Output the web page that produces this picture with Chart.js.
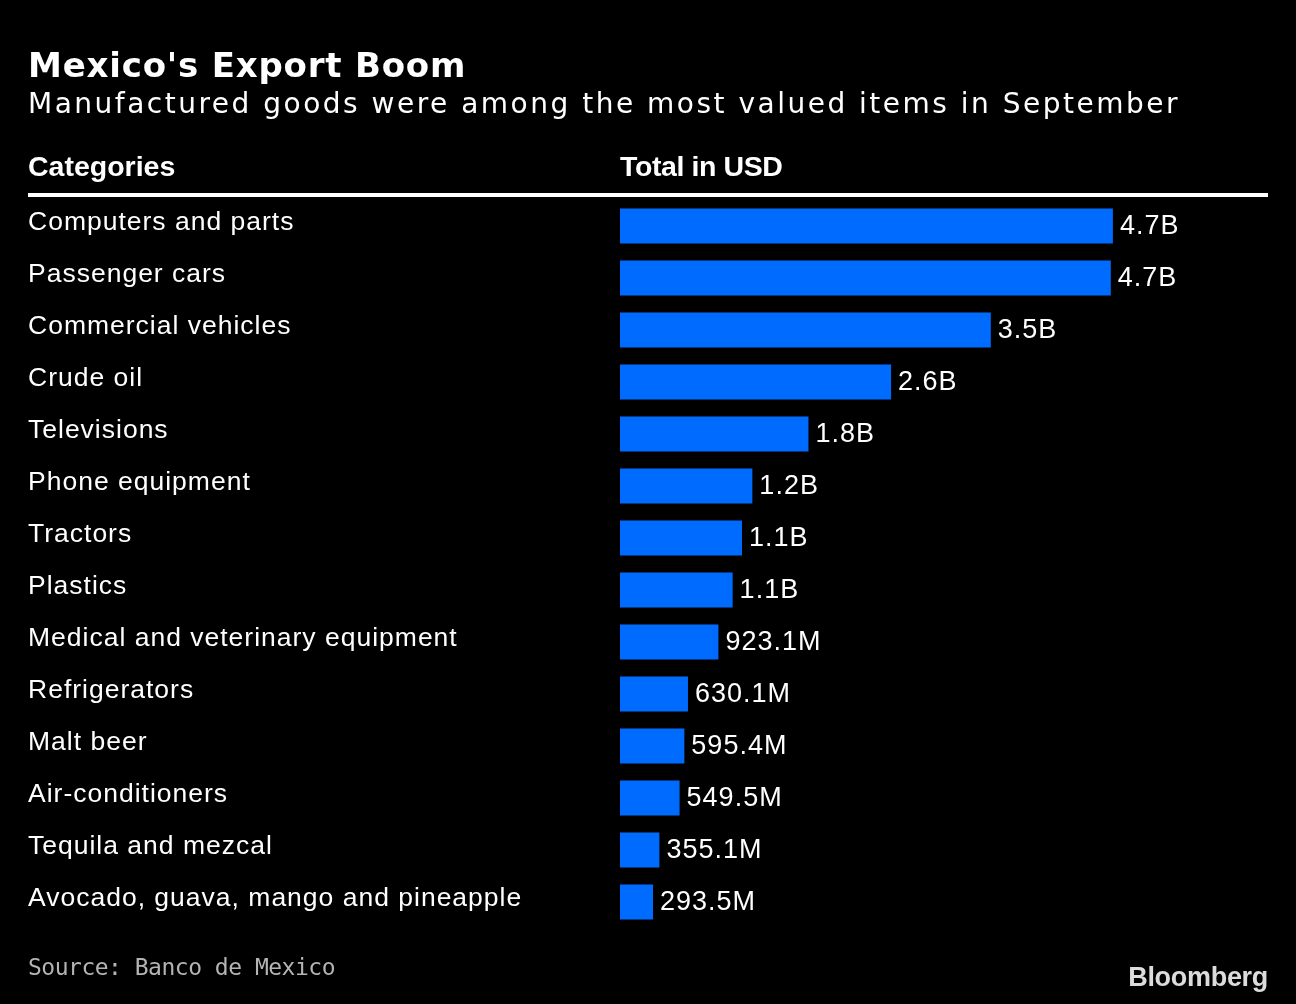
<!DOCTYPE html>
<html>
<head>
<meta charset="utf-8">
<script src="https://cdn.jsdelivr.net/npm/chart.js@4.4.1/dist/chart.umd.min.js"></script>
<style>
  html, body { margin: 0; padding: 0; background: #000; }
  #wrap { width: 1296px; height: 1004px; }
</style>
</head>
<body>
<div id="wrap"><canvas id="chart" width="1296" height="1004"></canvas></div>
<script>
// 데이터
const categories = [
  'Computers and parts',
  'Passenger cars',
  'Commercial vehicles',
  'Crude oil',
  'Televisions',
  'Phone equipment',
  'Tractors',
  'Plastics',
  'Medical and veterinary equipment',
  'Refrigerators',
  'Malt beer',
  'Air-conditioners',
  'Tequila and mezcal',
  'Avocado, guava, mango and pineapple'
];
// 단위: 10억 USD
const totals = [4.72, 4.70, 3.545, 2.585, 1.79, 1.25, 1.15, 1.06, 0.9231, 0.6301, 0.5954, 0.5495, 0.3551, 0.2935];
const valueLabels = ['4.7B', '4.7B', '3.5B', '2.6B', '1.8B', '1.2B', '1.1B', '1.1B',
  '923.1M', '630.1M', '595.4M', '549.5M', '355.1M', '293.5M'];

const titleText = "Mexico's Export Boom";
const subtitleText = 'Manufactured goods were among the most valued items in September';
const headerLeft = 'Categories';
const headerRight = 'Total in USD';
const sourceText = 'Source: Banco de Mexico';

const ROW_FONT = '"Liberation Sans", Arial, sans-serif';

// 제목, 머리글, 출처 그리기
const decorPlugin = {
  id: 'decor',
  afterDraw(chart) {
    const c = chart.ctx;
    const area = chart.chartArea;
    c.save();
    c.textBaseline = 'alphabetic';
    c.textAlign = 'left';
    c.fillStyle = '#fff';
    c.font = 'bold 34px "DejaVu Sans"';
    c.letterSpacing = '0.8px';
    c.fillText(titleText, 28, 77);
    c.font = '28px "DejaVu Sans"';
    c.letterSpacing = '2.5px';
    c.fillText(subtitleText, 28, 113);

    c.font = 'bold 28.5px ' + ROW_FONT;
    c.letterSpacing = '0px';
    c.fillText(headerLeft, 28, 176);
    c.letterSpacing = '-0.4px';
    c.fillText(headerRight, area.left, 176);

    c.fillRect(28, 193, 1240, 4);

    c.fillStyle = '#b4b4b4';
    c.font = '23px "DejaVu Sans Mono"';
    c.letterSpacing = '-0.5px';
    c.fillText(sourceText, 28, 975);

    c.fillStyle = '#dcdcdc';
    c.font = 'bold 27px ' + ROW_FONT;
    c.letterSpacing = '-0.3px';
    c.textAlign = 'right';
    c.fillText('Bloomberg', 1268, 986);
    c.restore();
  }
};

// 막대 끝 값 라벨
const valuePlugin = {
  id: 'values',
  afterDatasetsDraw(chart) {
    const c = chart.ctx;
    const meta = chart.getDatasetMeta(0);
    c.save();
    c.fillStyle = '#fff';
    c.font = '27px ' + ROW_FONT;
    c.textBaseline = 'alphabetic';
    c.textAlign = 'left';
    meta.data.forEach((bar, i) => {
      c.fillText(valueLabels[i], bar.x + 7, bar.y + 8);
    });
    c.restore();
  }
};

const chart = new Chart(document.getElementById('chart'), {
  type: 'bar',
  data: {
    labels: categories,
    datasets: [{
      data: totals,
      base: -0.024,
      backgroundColor: '#006cff',
      borderWidth: 0,
      categoryPercentage: 1,
      barPercentage: 0.673
    }]
  },
  options: {
    indexAxis: 'y',
    responsive: false,
    animation: false,
    layout: { padding: { top: 200, bottom: 76, left: 28, right: 28 } },
    plugins: {
      legend: { display: false },
      tooltip: { enabled: false }
    },
    scales: {
      x: {
        display: false,
        min: -0.024,
        max: 6.213
      },
      y: {
        grid: { display: false },
        border: { display: false },
        afterFit(scale) { scale.width = 592; },
        ticks: {
          crossAlign: 'far',
          color: '#fff',
          padding: 0,
          labelOffset: -3,
          font: { family: ROW_FONT, size: 26.5 }
        }
      }
    }
  },
  plugins: [decorPlugin, valuePlugin]
});

// 행 라벨 자간
chart.ctx.canvas.style.letterSpacing = '1px';
chart.update();
</script>
</body>
</html>
